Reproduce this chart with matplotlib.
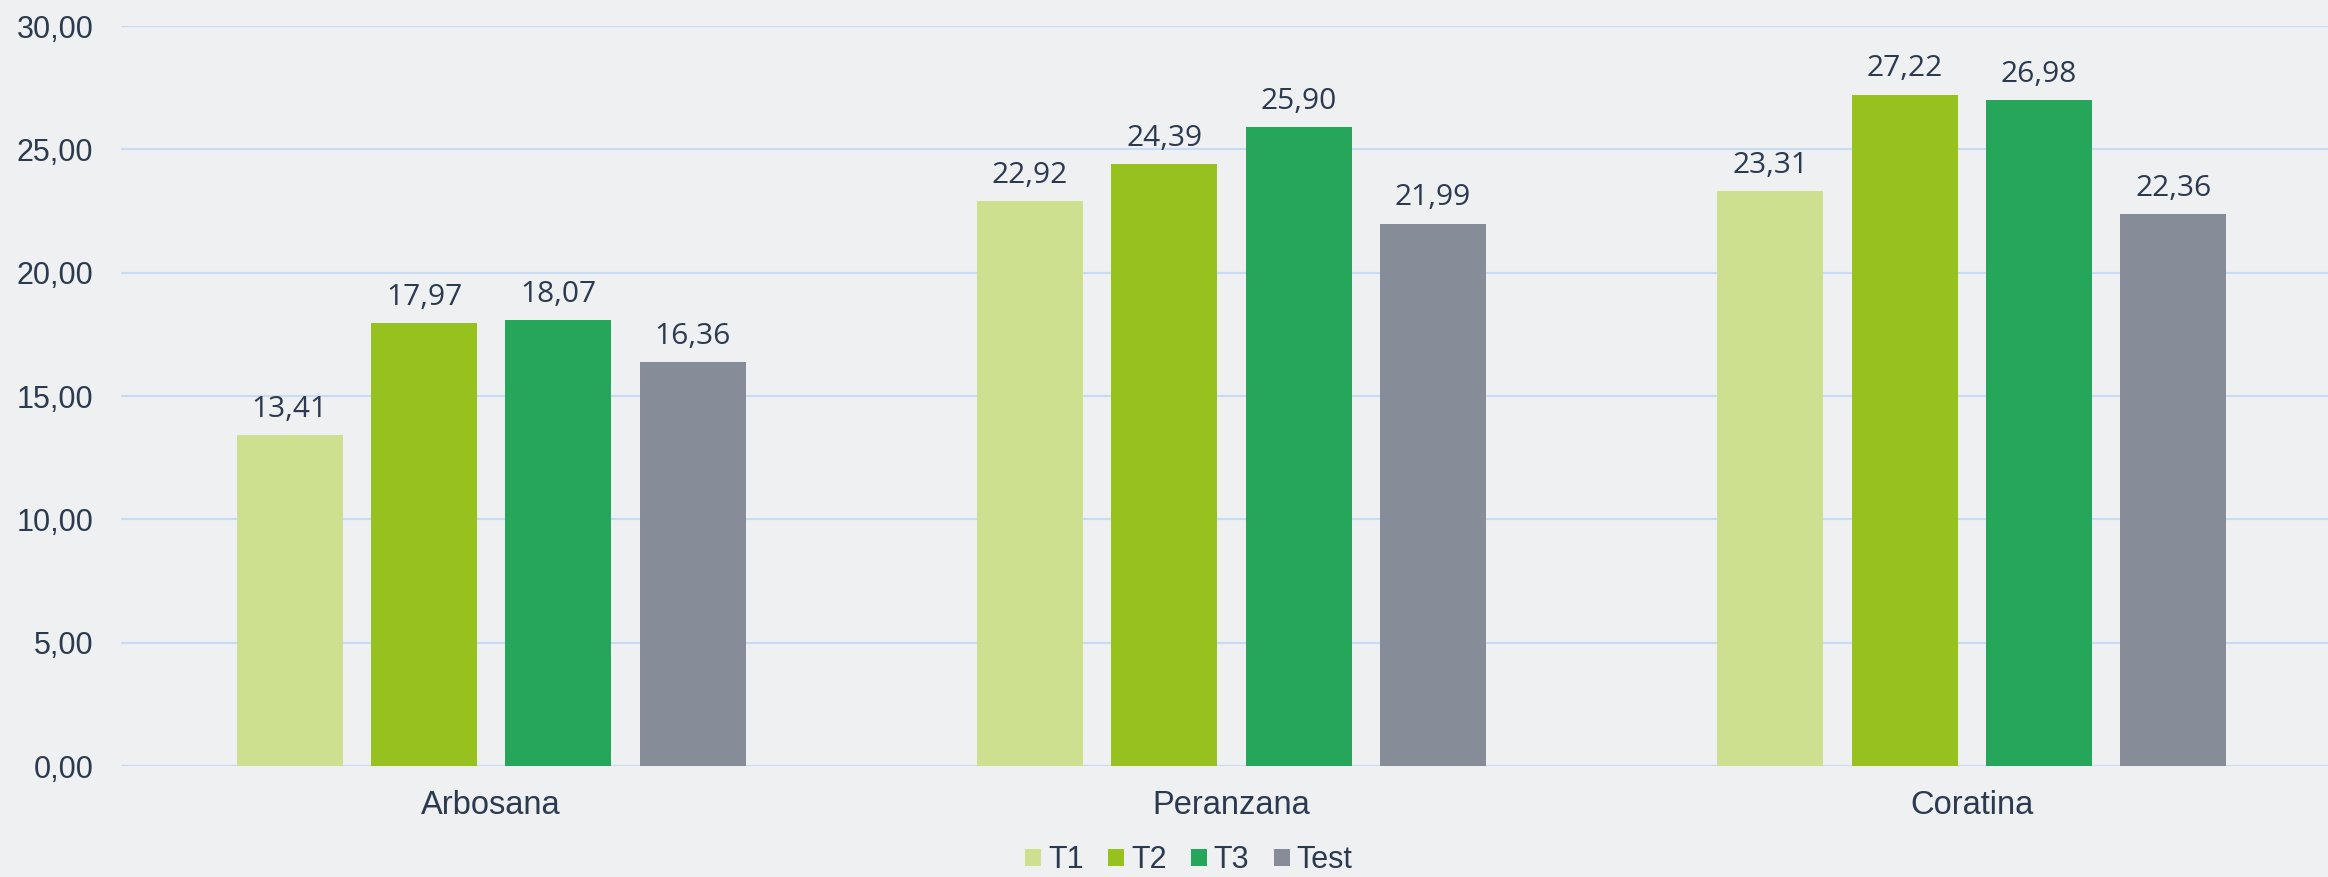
import matplotlib
matplotlib.use("Agg")
import matplotlib.pyplot as plt
import numpy as np

# data
categories = ["Arbosana", "Peranzana", "Coratina"]
series_names = ["T1", "T2", "T3", "Test"]
t1 = [13.41, 22.92, 23.31]
t2 = [17.97, 24.39, 27.22]
t3 = [18.07, 25.90, 26.98]
test = [16.36, 21.99, 22.36]
yticks = [0, 5, 10, 15, 20, 25, 30]

colors = ["#cce08f", "#96c11f", "#26a65b", "#868d98"]
bg = "#eef0f2"
txt = "#2b3a4f"
grid = "#c9dbf2"

plt.rcParams['font.family'] = ['Liberation Sans', 'DejaVu Sans']

fig = plt.figure(figsize=(23.28, 8.77), dpi=100, facecolor=bg)
ax = fig.add_axes([121 / 2328, 111 / 877, 2221 / 2328, 740 / 877])
ax.set_facecolor(bg)

x = np.arange(len(categories))
step = 0.1815
width = 0.143
for i, (name, vals) in enumerate(zip(series_names, [t1, t2, t3, test])):
    bars = ax.bar(x + (i - 1.5) * step, vals, width, color=colors[i], label=name, zorder=3)
    ax.bar_label(bars, labels=[f"{v:.2f}".replace('.', ',') for v in vals],
                 padding=8, fontsize=21.5, color=txt, family=['Open Sans', 'DejaVu Sans'])

ax.set_xlim(-0.5, len(categories) - 0.5)
ax.set_ylim(0, 30)
ax.set_yticks(yticks)
ax.set_yticklabels([f"{v:.2f}".replace('.', ',') for v in yticks])
ax.set_xticks(x)
ax.set_xticklabels(categories)
ax.tick_params(axis='both', length=0, colors=txt)
ax.tick_params(axis='y', pad=20, labelsize=22)
ax.tick_params(axis='x', pad=17, labelsize=23.5)
ax.grid(axis='y', color=grid, linewidth=1.5, zorder=0)
for s in ax.spines.values():
    s.set_visible(False)

# legend sits at the very bottom edge, kept just inside the canvas
fig.legend(loc='center', bbox_to_anchor=(0.5107, 0.019), ncol=4, frameon=False,
           fontsize=22, labelcolor=txt, handlelength=0.52, handleheight=0.52,
           handletextpad=0.23, columnspacing=0.8, borderpad=0.1)

fig.savefig("out.png", dpi=100, facecolor=bg)
